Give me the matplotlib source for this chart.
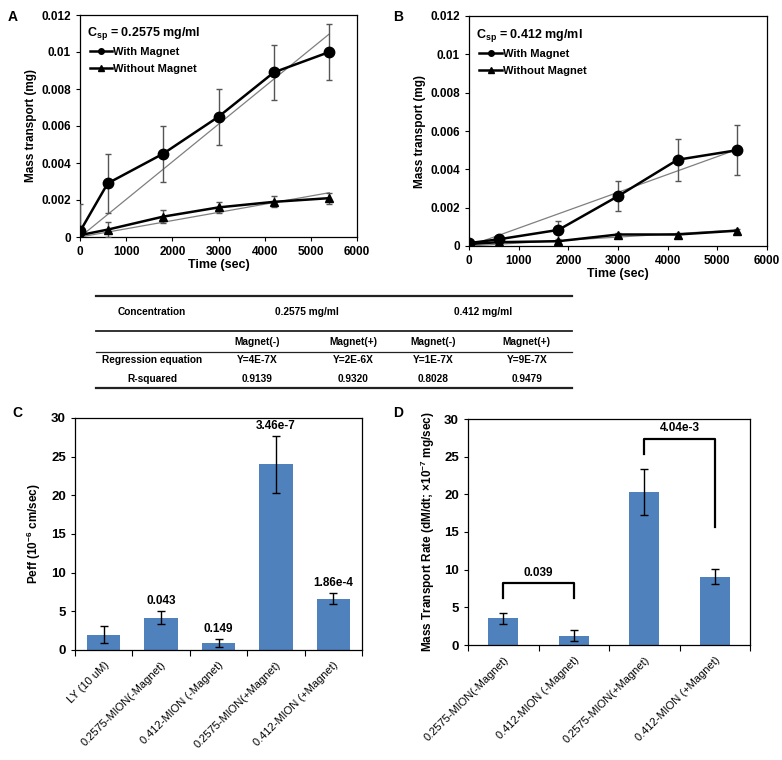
#!/usr/bin/env python3
import numpy as np
import matplotlib
import matplotlib.pyplot as plt

matplotlib.use("Agg")

plt.rcParams["font.family"] = ["Liberation Sans", "DejaVu Sans"]
plt.rcParams["font.weight"] = "bold"
plt.rcParams["axes.labelweight"] = "bold"
plt.rcParams["mathtext.fontset"] = "custom"
plt.rcParams["mathtext.rm"] = "Liberation Sans:bold"
plt.rcParams["mathtext.it"] = "Liberation Sans:bold"
plt.rcParams["mathtext.bf"] = "Liberation Sans:bold"
plt.rcParams["mathtext.default"] = "rm"

# ---- data: panels A / B (mass transport vs time)
time_sec = [0, 600, 1800, 3000, 4200, 5400]
a_with = [0.0003, 0.0029, 0.0045, 0.0065, 0.0089, 0.0100]
a_with_err = [0.0015, 0.0016, 0.0015, 0.0015, 0.0015, 0.0015]
a_without = [0.0001, 0.0004, 0.0011, 0.0016, 0.0019, 0.0021]
a_without_err = [0.0001, 0.0004, 0.00035, 0.0003, 0.0003, 0.0003]
b_with = [0.00015, 0.00035, 0.00084, 0.0026, 0.0045, 0.0050]
b_with_err = [0.0, 0.0001, 0.00045, 0.00078, 0.0011, 0.0013]
b_without = [0.0001, 0.0002, 0.00025, 0.0006, 0.0006, 0.0008]
b_without_err = [0.0, 0.0, 0.0, 0.0001, 0.0001, 0.0001]
mass_ticks = [0, 0.002, 0.004, 0.006, 0.008, 0.01, 0.012]
mass_ticklabels = ["0", "0.002", "0.004", "0.006", "0.008", "0.01", "0.012"]
time_ticks = [0, 1000, 2000, 3000, 4000, 5000, 6000]

# ---- data: regression table
table_header = ["Concentration", "0.2575 mg/ml", "0.412 mg/ml"]
table_sub = ["Magnet(-)", "Magnet(+)", "Magnet(-)", "Magnet(+)"]
table_rows = ["Regression equation", "R-squared"]
regression_eq = ["Y=4E-7X", "Y=2E-6X", "Y=1E-7X", "Y=9E-7X"]
r_squared = ["0.9139", "0.9320", "0.8028", "0.9479"]

# ---- data: panel C (Peff)
c_labels = ["LY (10 uM)", "0.2575-MION(-Magnet)", "0.412-MION (-Magnet)",
            "0.2575-MION(+Magnet)", "0.412-MION (+Magnet)"]
c_vals = [2.0, 4.2, 0.9, 24.0, 6.65]
c_err = [1.1, 0.8, 0.55, 3.7, 0.73]
c_pvals = ["", "0.043", "0.149", "3.46e-7", "1.86e-4"]

# ---- data: panel D (mass transport rate)
d_labels = ["0.2575-MION(-Magnet)", "0.412-MION (-Magnet)",
            "0.2575-MION(+Magnet)", "0.412-MION (+Magnet)"]
d_vals = [3.55, 1.25, 20.3, 9.05]
d_err = [0.7, 0.7, 3.1, 1.0]
d_pairs = [(0, 1), (2, 3)]
d_pair_pvals = ["0.039", "4.04e-3"]
d_pair_levels = [(6.2, 6.2, 8.2), (25.3, 15.7, 27.35)]  # left leg, right leg, top

BAR_COLOR = "#4F81BD"
W, H = 782, 760


def rect(x0, y0, x1, y1):
    return [x0 / W, 1 - y1 / H, (x1 - x0) / W, (y1 - y0) / H]


def time_panel(ax, y_with, e_with, y_without, e_without, csp):
    t = np.array(time_sec, dtype=float)
    for y in (y_with, y_without):
        y = np.array(y)
        slope = np.sum(t * y) / np.sum(t * t)
        ax.plot([0, t[-1]], [0, slope * t[-1]], color="#7f7f7f", lw=0.9, zorder=2)
    ax.errorbar(t, y_with, yerr=e_with, fmt="none", ecolor="#555555",
                elinewidth=1.0, capsize=2.5, capthick=1.0, zorder=3)
    ax.errorbar(t, y_without, yerr=e_without, fmt="none", ecolor="#555555",
                elinewidth=1.0, capsize=2.5, capthick=1.0, zorder=3)
    ax.plot(t, y_with, color="black", lw=1.8, marker="o", ms=7.5, zorder=4)
    ax.plot(t, y_without, color="black", lw=1.8, marker="^", ms=6, zorder=4)
    h1, = ax.plot([], [], color="black", lw=1.8, marker="o", ms=4)
    h2, = ax.plot([], [], color="black", lw=1.8, marker="^", ms=4)
    ax.legend([h1, h2], ["With Magnet", "Without Magnet"], loc="upper left",
              bbox_to_anchor=(0.02, 0.875), frameon=False, fontsize=8,
              handlelength=2.0, handletextpad=0.1, labelspacing=0.6,
              borderaxespad=0)
    ax.text(0.025, 0.915, r"C$_{sp}$ = " + csp, transform=ax.transAxes,
            fontsize=9, fontweight="bold", va="center", ha="left")
    ax.set_xlim(0, 6000)
    ax.set_ylim(0, 0.012)
    ax.set_xticks(time_ticks)
    ax.set_yticks(mass_ticks)
    ax.set_yticklabels(mass_ticklabels)
    ax.tick_params(labelsize=8.5, direction="out", length=3, width=0.8)
    ax.set_xlabel("Time (sec)", fontsize=9, labelpad=1)
    ax.set_ylabel("Mass transport (mg)", fontsize=8.5, labelpad=3)
    for s in ax.spines.values():
        s.set_linewidth(0.9)


def bar_frame(ax, n, labels):
    x = np.arange(n)
    ax.set_xlim(-0.5, n - 0.5)
    ax.set_ylim(0, 30)
    ax.set_yticks(np.arange(0, 31, 5))
    ax.set_xticks(x)
    ax.set_xticklabels(labels, rotation=45, ha="right", rotation_mode="anchor",
                       fontsize=8, fontweight="normal")
    ax.tick_params(axis="x", length=0, pad=7)
    ax.set_xticks(np.arange(n + 1) - 0.5, minor=True)
    ax.tick_params(axis="x", which="minor", length=4, direction="out", width=0.8)
    ax.tick_params(axis="y", labelsize=9.5, direction="out", length=3, width=0.8)
    for s in ax.spines.values():
        s.set_linewidth(0.9)
    return x


fig = plt.figure(figsize=(W / 100, H / 100), dpi=100)

# panel A
ax_a = fig.add_axes(rect(80, 15, 357, 237))
time_panel(ax_a, a_with, a_with_err, a_without, a_without_err, "0.2575 mg/ml")
# panel B
ax_b = fig.add_axes(rect(469, 16, 767, 246))
time_panel(ax_b, b_with, b_with_err, b_without, b_without_err, "0.412 mg/ml")

# table
tax = fig.add_axes(rect(96, 296, 572, 388))
tax.set_axis_off()
tax.set_xlim(0, 1)
tax.set_ylim(0, 1)
for yy, lw in [(1.0, 1.6), (0.62, 1.3), (0.39, 0.9), (0.0, 1.6)]:
    tax.plot([0, 1], [yy, yy], color="#222222", lw=lw, clip_on=False)
tfs = 7.3
col_x = [0.338, 0.54, 0.708, 0.905]
tax.text(0.118, 0.826, table_header[0], ha="center", va="center", fontsize=tfs)
tax.text(0.443, 0.826, table_header[1], ha="center", va="center", fontsize=tfs)
tax.text(0.813, 0.826, table_header[2], ha="center", va="center", fontsize=tfs)
for cx, s in zip(col_x, table_sub):
    tax.text(cx, 0.5, s, ha="center", va="center", fontsize=tfs)
for yy, name, vals in [(0.304, table_rows[0], regression_eq), (0.098, table_rows[1], r_squared)]:
    tax.text(0.118, yy, name, ha="center", va="center", fontsize=tfs)
    for cx, s in zip(col_x, vals):
        tax.text(cx, yy, s, ha="center", va="center", fontsize=tfs)

# panel C
ax_c = fig.add_axes(rect(75, 418, 362, 650))
xc = bar_frame(ax_c, len(c_vals), c_labels)
ax_c.bar(xc, c_vals, width=0.58, color=BAR_COLOR, zorder=2)
ax_c.errorbar(xc, c_vals, yerr=c_err, fmt="none", ecolor="black",
              elinewidth=1.0, capsize=3, capthick=1.0, zorder=3)
for xi, v, e, p in zip(xc, c_vals, c_err, c_pvals):
    if p:
        ax_c.annotate(p, (xi, v + e), xytext=(0, 3), textcoords="offset points",
                      ha="center", va="bottom", fontsize=8.5, fontweight="bold")
ax_c.set_ylabel("Peff (10$^{-6}$ cm/sec)", fontsize=8.5, labelpad=6)

# panel D
ax_d = fig.add_axes(rect(468, 419, 750, 645))
xd = bar_frame(ax_d, len(d_vals), d_labels)
ax_d.bar(xd, d_vals, width=0.42, color=BAR_COLOR, zorder=2)
ax_d.errorbar(xd, d_vals, yerr=d_err, fmt="none", ecolor="black",
              elinewidth=1.0, capsize=3, capthick=1.0, zorder=3)
for (i, j), p, (yl, yr, yt) in zip(d_pairs, d_pair_pvals, d_pair_levels):
    ax_d.plot([xd[i], xd[i], xd[j], xd[j]], [yl, yt, yt, yr], color="black",
              lw=1.6, zorder=3)
    ax_d.text((xd[i] + xd[j]) / 2, yt + 0.6, p, ha="center", va="bottom",
              fontsize=8.5, fontweight="bold")
ax_d.set_ylabel("Mass Transport Rate (dM/dt; \u00d710$^{-7}$ mg/sec)",
                fontsize=8.5, labelpad=5)

# panel letters
for lx, ly, s in [(13, 17, "A"), (398, 17, "B"), (17, 413, "C"), (398, 413, "D")]:
    fig.text(lx / W, 1 - ly / H, s, fontsize=10, fontweight="bold",
             ha="center", va="center")

fig.savefig("out.png", dpi=100)
plt.close(fig)
